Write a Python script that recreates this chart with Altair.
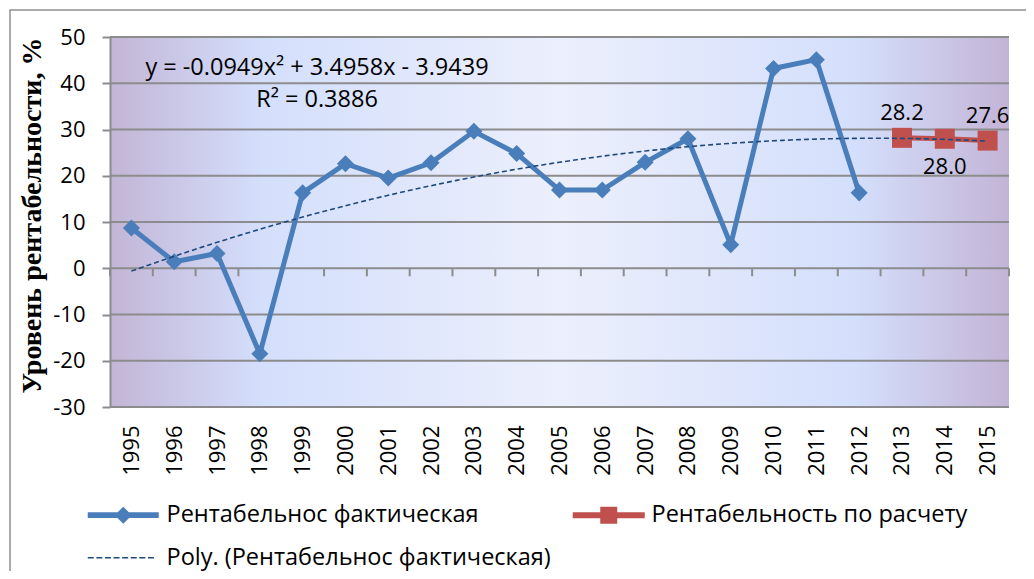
import altair as alt
import pandas as pd

# ---------------- data ----------------
years = list(range(1995, 2013))
actual = [8.7, 1.4, 3.2, -18.5, 16.3, 22.6, 19.5, 22.8, 29.6, 24.8,
          16.9, 16.9, 22.9, 28.0, 5.1, 43.2, 45.1, 16.3]
fc_years = [2013, 2014, 2015]
forecast = [28.2, 28.0, 27.6]
all_years = list(range(1995, 2016))
y_ticks = [-30, -20, -10, 0, 10, 20, 30, 40, 50]
series_names = ["Рентабельнос фактическая",
                "Рентабельность по расчету",
                "Poly. (Рентабельнос фактическая)"]
equation = "y = -0.0949x² + 3.4958x - 3.9439"
r2_text = "R² = 0.3886"
y_title = "Уровень рентабельности, %"

# ---------------- style ----------------
W, H = 899, 370
BLUE = "#4a7ebb"
RED = "#c0504d"
TREND = "#1f497d"
GRID = "#8c8c8c"
FONT = "Open Sans"

act_df = pd.DataFrame({"year": years, "value": actual})
fc_df = pd.DataFrame({"year": fc_years, "value": forecast})
grid_df = pd.DataFrame({"v": y_ticks})
bound_df = pd.DataFrame({"b": [all_years[0] - 0.5] + [y + 0.5 for y in all_years]})

xscale = alt.Scale(domain=[all_years[0] - 0.5, all_years[-1] + 0.5], nice=False, zero=False)
yscale = alt.Scale(domain=[y_ticks[0], y_ticks[-1]], nice=False, zero=False)

xaxis = alt.Axis(values=all_years, format="d", labelAngle=270, labelAlign="right",
                 labelBaseline="middle", labelPadding=18, domain=False, ticks=False,
                 grid=False, labelFont=FONT, labelFontSize=22, labelColor="black",
                 title=None, labelOverlap=False, labelFlush=False)
yaxis = alt.Axis(values=y_ticks, grid=False, domain=True, domainColor=GRID, domainWidth=2,
                 tickColor=GRID, tickWidth=2, tickSize=8, labelPadding=17,
                 labelExpr="'' + datum.value",
                 labelFont=FONT, labelFontSize=22, labelColor="black",
                 title=y_title, titleFont="Liberation Serif", titleFontSize=28,
                 titleFontWeight="bold", titleColor="black", titleX=-78, titleY=H / 2 - 7,
                 titleAngle=270, titleAlign="center", titleBaseline="middle", zindex=1)


def X(f):
    return alt.X(f, type="quantitative", scale=xscale, axis=xaxis)


def Y(f):
    return alt.Y(f, type="quantitative", scale=yscale, axis=yaxis)


one = pd.DataFrame({"k": [0]})

bg = alt.Chart(one).mark_rect(
    fill=alt.Gradient(
        gradient="linear", x1=0, x2=1, y1=0, y2=0,
        stops=[alt.GradientStop(color="#c3b5d6", offset=0),
               alt.GradientStop(color="#d4dffc", offset=0.17),
               alt.GradientStop(color="#eceffc", offset=0.5),
               alt.GradientStop(color="#d4dffc", offset=0.83),
               alt.GradientStop(color="#c3b4d6", offset=1)]),
    strokeWidth=0,
).encode(x=alt.value(0), x2=alt.value(W), y=alt.value(0), y2=alt.value(H))

grid = alt.Chart(grid_df).mark_rule(color=GRID, strokeWidth=2).encode(y=Y("v"))

zero_ticks = alt.Chart(bound_df).transform_calculate(z="0").mark_rule(
    color=GRID, strokeWidth=2, y2Offset=8
).encode(x=X("b"), y=Y("z"), y2=alt.Y2("z"))

trend = alt.Chart(act_df).transform_regression(
    "year", "value", method="poly", order=2, extent=[all_years[0], all_years[-1]]
).mark_line(color=TREND, strokeWidth=1.6, strokeDash=[5, 3]).encode(x=X("year"), y=Y("value"))

blue_line = alt.Chart(act_df).mark_line(color=BLUE, strokeWidth=5).encode(x=X("year"), y=Y("value"))
blue_pts = alt.Chart(act_df).mark_point(shape="diamond", filled=True, size=290, color=BLUE,
                                        opacity=1).encode(x=X("year"), y=Y("value"))

red_line = alt.Chart(fc_df).mark_line(color=RED, strokeWidth=5).encode(x=X("year"), y=Y("value"))
red_pts = alt.Chart(fc_df).mark_point(shape="square", filled=True, size=400, color=RED,
                                      opacity=1).encode(x=X("year"), y=Y("value"))

lab_above = alt.Chart(fc_df).transform_filter("datum.year != 2014").mark_text(
    font=FONT, fontSize=22, color="black", baseline="middle", dy=-25
).encode(x=X("year"), y=Y("value"), text=alt.Text("value:Q", format=".1f"))
lab_below = alt.Chart(fc_df).transform_filter("datum.year == 2014").mark_text(
    font=FONT, fontSize=22, color="black", baseline="middle", dy=28
).encode(x=X("year"), y=Y("value"), text=alt.Text("value:Q", format=".1f"))

eq = alt.Chart(pd.DataFrame({"t": [equation]})).mark_text(
    font=FONT, fontSize=23.5, color="black", align="center", baseline="middle"
).encode(x=alt.value(207), y=alt.value(31), text="t:N")
r2 = alt.Chart(pd.DataFrame({"t": [r2_text]})).mark_text(
    font=FONT, fontSize=23.5, color="black", align="center", baseline="middle"
).encode(x=alt.value(207), y=alt.value(63), text="t:N")

# legend symbols (paths in units of r = sqrt(size)/2 = 10px)
def rect(x0, x1, h):
    return f"M{x0},{-h}L{x1},{-h}L{x1},{h}L{x0},{h}Z"

blue_sym = rect(-1, 6.1, 0.28) + "M2.55,-0.85L3.4,0L2.55,0.85L1.7,0Z"
red_sym = rect(-1, 6.2, 0.3) + "M1.75,-0.85L3.45,-0.85L3.45,0.85L1.75,0.85Z"
dash_sym = "".join(rect(round(-1 + i * 0.86, 3), round(-1 + i * 0.86 + 0.6, 3), 0.08) for i in range(8))

# legend entries fill column by column: order gives row1 = actual, forecast; row2 = trend
legend_order = [series_names[0], series_names[2], series_names[1]]
legend_syms = [blue_sym, dash_sym, red_sym]
legend_cols = [BLUE, TREND, RED]

leg = alt.Legend(title=None, orient="none", legendX=-24, legendY=466, columns=2,
                 columnPadding=20, rowPadding=18, symbolSize=400, symbolStrokeWidth=0,
                 symbolOpacity=1, symbolOffset=0, labelOffset=57, labelFont=FONT,
                 labelFontSize=23.5, labelColor="black", labelLimit=700, padding=0)
legend_layer = alt.Chart(pd.DataFrame({"name": series_names})).mark_point(
    filled=True, opacity=0
).encode(
    x=alt.value(0), y=alt.value(0),
    color=alt.Color("name:N", scale=alt.Scale(domain=legend_order, range=legend_cols),
                    legend=leg),
    shape=alt.Shape("name:N", scale=alt.Scale(domain=legend_order, range=legend_syms),
                    legend=leg),
)

frame = alt.Chart(one).mark_rect(fillOpacity=0, stroke="#8e8e8e", strokeWidth=1.5).encode(
    x=alt.value(-100), x2=alt.value(940), y=alt.value(-27), y2=alt.value(560))

chart = alt.layer(
    bg, grid, zero_ticks, blue_line, blue_pts, red_line, red_pts, trend,
    lab_above, lab_below, eq, r2, legend_layer, frame
).properties(
    width=W, height=H,
    padding={"left": 102, "top": 29, "right": 17, "bottom": 164},
    autosize=alt.AutoSizeParams(type="none"),
).configure_view(stroke=None)

chart.save("out.html", embed_options={"renderer": "svg", "actions": False})
